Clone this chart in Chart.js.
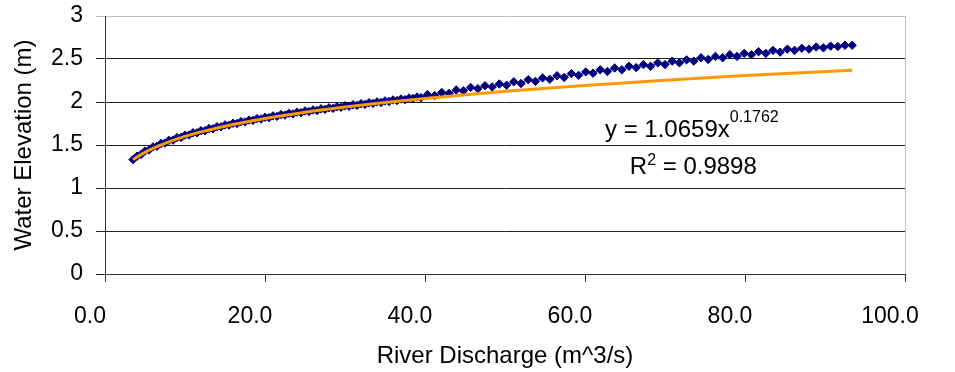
<!DOCTYPE html>
<html>
<head>
<meta charset="utf-8">
<script src="https://cdn.jsdelivr.net/npm/chart.js@4"></script>
<style>
  html, body { margin: 0; padding: 0; background: #fff; }
  #wrap { width: 955px; height: 372px; }
</style>
</head>
<body>
<div id="wrap"><canvas id="rating"></canvas></div>
<script>
// River discharge (m^3/s) vs water elevation (m)
const discharge = [
  3.5, 4.0, 4.5, 5.0, 5.5, 6.0, 6.5, 7.0, 7.5, 8.0,
  8.5, 9.0, 9.5, 10.0, 10.5, 11.0, 11.5, 12.0, 12.5, 13.0,
  13.5, 14.0, 14.5, 15.0, 15.5, 16.0, 16.5, 17.0, 17.5, 18.0,
  18.5, 19.0, 19.5, 20.0, 20.5, 21.0, 21.5, 22.0, 22.5, 23.0,
  23.5, 24.0, 24.5, 25.0, 25.5, 26.0, 26.5, 27.0, 27.5, 28.0,
  28.5, 29.0, 29.5, 30.0, 30.5, 31.0, 31.5, 32.0, 32.5, 33.0,
  33.5, 34.0, 34.5, 35.0, 35.5, 36.0, 36.5, 37.0, 37.5, 38.0,
  38.5, 39.0, 39.5,
  40.3, 41.2, 42.1, 43.0, 43.9, 44.8, 45.7, 46.6,
  47.5, 48.4, 49.3, 50.2, 51.1, 52.0, 52.9, 53.8, 54.7, 55.6,
  56.5, 57.4, 58.3, 59.2, 60.1, 61.0, 61.9, 62.8, 63.7, 64.6,
  65.5, 66.4, 67.3, 68.2, 69.1, 70.0, 70.9, 71.8, 72.7, 73.6,
  74.5, 75.4, 76.3, 77.2, 78.1, 79.0, 79.9, 80.8, 81.7, 82.6,
  83.5, 84.4, 85.3, 86.2, 87.1, 88.0, 88.9, 89.8, 90.7, 91.6,
  92.5, 93.4
];
const elevation = [
  1.33, 1.37, 1.39, 1.43, 1.442, 1.478, 1.485, 1.518, 1.523, 1.554,
  1.557, 1.586, 1.588, 1.615, 1.616, 1.642, 1.642, 1.667, 1.666, 1.691,
  1.689, 1.713, 1.711, 1.734, 1.731, 1.753, 1.75, 1.772, 1.768, 1.79,
  1.786, 1.807, 1.802, 1.823, 1.818, 1.839, 1.833, 1.854, 1.848, 1.868,
  1.862, 1.882, 1.876, 1.896, 1.889, 1.908, 1.901, 1.921, 1.914, 1.933,
  1.926, 1.945, 1.938, 1.957, 1.95, 1.968, 1.961, 1.98, 1.972, 1.992,
  1.984, 2.002, 1.995, 2.013, 2.006, 2.024, 2.017, 2.035, 2.027, 2.046,
  2.04, 2.058, 2.05,
  2.085, 2.075, 2.11, 2.10, 2.14, 2.13, 2.17, 2.155,
  2.19, 2.175, 2.21, 2.195, 2.235, 2.215, 2.26, 2.24, 2.28, 2.265,
  2.305, 2.285, 2.33, 2.31, 2.35, 2.335, 2.375, 2.355, 2.395, 2.375,
  2.415, 2.40, 2.435, 2.415, 2.455, 2.435, 2.475, 2.455, 2.49, 2.475,
  2.515, 2.495, 2.53, 2.515, 2.55, 2.53, 2.565, 2.55, 2.585, 2.565,
  2.60, 2.58, 2.615, 2.60, 2.625, 2.615, 2.64, 2.63, 2.65, 2.645,
  2.66, 2.66
];

// power trendline as drawn (y = 1.0659x^0.1762)
const trendX = [3.5, 4, 5, 6, 7.5, 10, 12.5, 15, 20, 25, 30, 35, 40, 50, 60, 70, 80, 93.4];
const trendY = [1.33, 1.361, 1.415, 1.462, 1.52, 1.60, 1.663, 1.718, 1.807, 1.88, 1.941, 1.994, 2.042, 2.124, 2.193, 2.253, 2.307, 2.37];

const xTickLabels = ['0.0', '20.0', '40.0', '60.0', '80.0', '100.0'];
const yTickLabels = ['0', '0.5', '1', '1.5', '2', '2.5', '3'];

const equationText = 'y = 1.0659x';
const equationExp = '0.1762';
const rSquaredText = ' = 0.9898';

const FONT = "'Liberation Sans', Arial, sans-serif";

// right border of the plot + the trendline labels
const extras = {
  id: 'extras',
  afterDraw(chart) {
    const { ctx, chartArea, scales } = chart;
    ctx.save();
    ctx.strokeStyle = '#c0c0c0';
    ctx.lineWidth = 1;
    ctx.beginPath();
    ctx.moveTo(chartArea.right + 0.5, chartArea.top);
    ctx.lineTo(chartArea.right + 0.5, chartArea.bottom);
    ctx.stroke();

    ctx.fillStyle = '#000';
    ctx.textBaseline = 'alphabetic';
    ctx.textAlign = 'left';

    let x = scales.x.getPixelForValue(62.5);
    let y = scales.y.getPixelForValue(1.593);
    ctx.font = '24px ' + FONT;
    ctx.fillText(equationText, x, y);
    x += ctx.measureText(equationText).width;
    ctx.font = '16px ' + FONT;
    ctx.fillText(equationExp, x, y - 15);

    x = scales.x.getPixelForValue(65.6);
    y = scales.y.getPixelForValue(1.163);
    ctx.font = '24px ' + FONT;
    ctx.fillText('R', x, y);
    x += ctx.measureText('R').width;
    ctx.font = '16px ' + FONT;
    ctx.fillText('2', x, y - 9);
    x += ctx.measureText('2').width;
    ctx.font = '24px ' + FONT;
    ctx.fillText(rSquaredText, x, y);
    ctx.restore();
  }
};

const ctx = document.getElementById('rating').getContext('2d');
new Chart(ctx, {
  type: 'scatter',
  data: {
    datasets: [
      {
        label: 'Power trendline',
        data: trendX.map((v, i) => ({ x: v, y: trendY[i] })),
        showLine: true,
        borderColor: '#ff9900',
        borderWidth: 3,
        pointRadius: 0,
        cubicInterpolationMode: 'monotone',
        order: 0
      },
      {
        label: 'Measured',
        data: discharge.map((v, i) => ({ x: v, y: elevation[i] })),
        showLine: true,
        borderColor: 'rgba(0, 0, 128, 0.7)',
        borderWidth: 1.5,
        pointStyle: 'rectRot',
        pointRadius: 4.2,
        pointBackgroundColor: '#000080',
        pointBorderColor: '#000080',
        pointBorderWidth: 1,
        order: 1
      }
    ]
  },
  options: {
    responsive: true,
    maintainAspectRatio: false,
    animation: false,
    layout: { padding: { top: 16, right: 50, left: 0, bottom: 0 } },
    plugins: {
      legend: { display: false },
      tooltip: { enabled: false }
    },
    scales: {
      x: {
        type: 'linear',
        min: 0,
        max: 100,
        afterFit: (s) => { s.height = 98; s.paddingLeft = 0; s.paddingRight = 0; },
        afterBuildTicks: (s) => { s.ticks = xTickLabels.map((t, i) => ({ value: i * 20 })); },
        ticks: {
          callback: (v, i) => xTickLabels[i],
          font: { family: FONT, size: 23 },
          color: '#000',
          padding: 21,
          labelOffset: -15,
          maxRotation: 0,
          autoSkip: false
        },
        grid: {
          drawOnChartArea: false,
          drawTicks: true,
          tickLength: 8,
          tickColor: '#333'
        },
        border: { color: '#333', width: 1 },
        title: {
          display: true,
          text: 'River Discharge (m^3/s)',
          font: { family: FONT, size: 24 },
          color: '#000',
          padding: { top: 0, bottom: 1 }
        }
      },
      y: {
        type: 'linear',
        min: 0,
        max: 3,
        afterFit: (s) => { s.width = 105; s.paddingTop = 0; s.paddingBottom = 0; },
        afterBuildTicks: (s) => { s.ticks = yTickLabels.map((t, i) => ({ value: i * 0.5 })); },
        ticks: {
          callback: (v, i) => yTickLabels[i],
          font: { family: FONT, size: 23 },
          color: '#000',
          padding: 13
        },
        grid: {
          color: (c) => (c.tick && c.tick.value === 3 ? '#c0c0c0' : '#222'),
          tickLength: 9,
          lineWidth: 1
        },
        border: { color: '#333', width: 1 },
        title: {
          display: true,
          text: 'Water Elevation (m)',
          font: { family: FONT, size: 24 },
          color: '#000',
          padding: { top: 10, bottom: 0 }
        }
      }
    }
  },
  plugins: [extras]
});
</script>
</body>
</html>
